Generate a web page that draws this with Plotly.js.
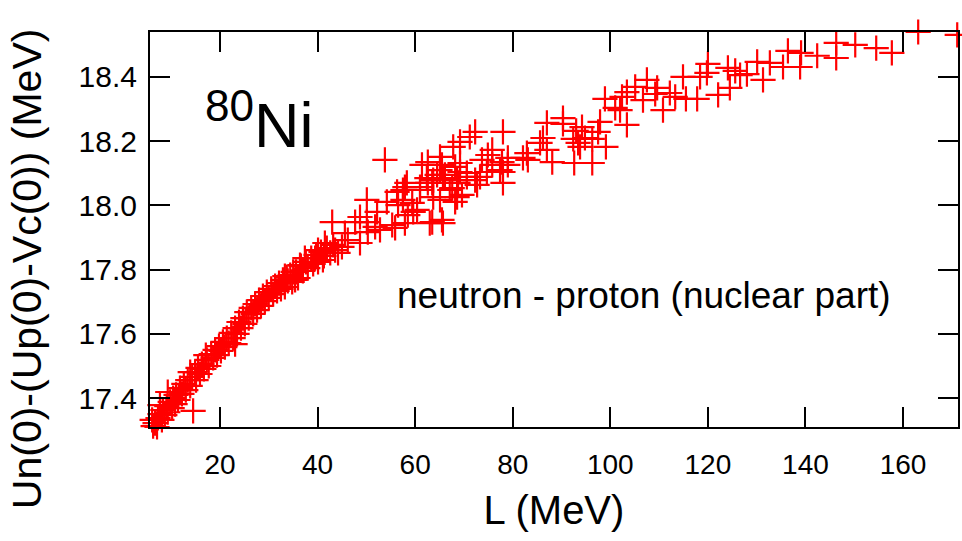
<!DOCTYPE html>
<html>
<head>
<meta charset="utf-8">
<script src="https://cdn.plot.ly/plotly-3.0.1.min.js"></script>
<style>html,body{margin:0;padding:0;background:#fff;}#chart{width:962px;height:541px;}</style>
</head>
<body>
<div id="chart"></div>
<script>
// L (MeV) values
const L = [
5.7,6.3,6.7,7.1,6.1,7.3,7.7,8.1,8.3,8.7,9.1,9.3,9.8,10.2,10.4,10.8,11.0,11.4,9.3,7.7,
11.8,12.2,12.6,13.0,13.4,13.9,13.9,14.3,14.9,15.1,15.5,15.9,16.3,16.7,17.1,17.3,17.7,18.2,18.6,19.0,
19.4,19.8,20.2,20.6,21.0,21.4,21.8,22.3,22.7,23.1,23.5,23.9,24.3,24.7,25.1,25.5,25.9,26.4,26.8,27.2,
27.6,28.0,28.4,28.8,29.2,29.6,30.0,30.5,30.9,31.3,31.7,32.1,32.5,32.9,33.3,33.9,34.4,34.8,35.6,36.0,
36.6,37.0,37.6,38.0,38.7,39.1,39.7,40.1,40.7,41.3,41.9,42.6,43.2,43.6,14.5,23.1,
53.8,62.6,65.1,68.2,70.6,65.7,63.5,62.4,68.8,67.1,57.9,56.3,61.0,50.1,54.2,56.5,59.4,60.4,63.5,65.5,
52.2,48.7,43.0,50.1,47.7,51.8,55.3,52.8,55.9,50.3,45.6,46.2,48.7,45.0,44.2,41.5,40.1,39.5,37.4,36.4,
41.1,35.0,33.7,33.3,35.4,
65.1,65.5,66.1,64.5,63.7,61.4,62.6,61.0,58.3,57.5,67.6,68.6,69.6,68.2,65.1,63.7,63.0,65.7,59.6,58.5,
57.9,57.5,75.8,74.9,73.7,77.8,79.0,79.0,77.4,75.8,74.7,73.3,72.3,72.7,70.6,69.2,69.2,68.6,78.0,78.0,
72.3,71.2,69.2,67.8,78.0,82.9,82.1,83.1,85.6,86.2,87.0,88.1,87.0,90.3,90.3,94.8,
93.0,92.4,93.4,92.6,96.3,93.8,94.2,96.3,97.5,99.1,97.9,103.4,102.0,98.9,101.0,102.4,103.4,105.1,106.7,109.2,
107.5,109.6,110.8,112.2,113.3,115.5,117.8,114.9,118.4,119.8,120.0,122.1,124.5,124.1,125.6,126.6,131.3,128.0,130.1,132.7,
135.4,138.9,136.4,139.1,142.4,146.3,146.3,150.2,154.5,157.7,163.1,171.1
];
// Un(0)-(Up(0)-Vc(0)) (MeV) values
const U = [
17.307,17.313,17.322,17.310,17.332,17.338,17.350,17.332,17.363,17.347,17.375,17.356,17.388,17.369,17.400,17.381,17.410,17.394,17.419,17.378,
17.431,17.413,17.444,17.425,17.456,17.438,17.481,17.466,17.481,17.456,17.494,17.475,17.506,17.491,17.534,17.519,17.500,17.537,17.525,17.550,
17.534,17.562,17.547,17.575,17.559,17.587,17.571,17.603,17.587,17.618,17.600,17.637,17.618,17.649,17.631,17.668,17.649,17.681,17.662,17.693,
17.674,17.705,17.687,17.718,17.702,17.730,17.712,17.740,17.724,17.749,17.734,17.758,17.740,17.768,17.780,17.765,17.783,17.762,17.793,17.774,
17.811,17.796,17.824,17.805,17.836,17.818,17.846,17.824,17.855,17.843,17.867,17.852,17.877,17.861,17.360,17.568,
18.142,18.135,18.110,18.120,18.101,18.085,18.070,18.085,18.070,18.048,18.057,18.042,18.048,18.017,18.011,18.001,18.008,17.986,17.948,17.955,
17.980,17.964,17.948,17.948,17.948,17.933,17.939,17.924,17.930,17.917,17.914,17.892,17.883,17.871,17.852,17.883,17.861,17.836,17.836,17.814,
17.830,17.793,17.777,17.746,17.768,
18.151,18.126,18.095,18.095,18.079,18.126,18.070,18.057,18.070,18.048,18.054,18.026,18.033,18.011,18.017,18.026,17.945,17.945,17.980,17.970,
17.945,18.017,18.173,18.157,18.142,18.135,18.148,18.126,18.110,18.126,18.104,18.089,18.079,18.064,18.089,18.104,18.132,18.079,18.104,18.070,
18.229,18.213,18.198,18.182,18.229,18.163,18.148,18.142,18.195,18.210,18.173,18.135,18.257,18.272,18.254,18.210,
18.232,18.207,18.195,18.132,18.132,18.182,18.244,18.207,18.229,18.182,18.260,18.251,18.297,18.332,18.304,18.338,18.353,18.369,18.328,18.347,
18.391,18.366,18.297,18.350,18.338,18.332,18.332,18.400,18.400,18.413,18.441,18.344,18.366,18.428,18.419,18.406,18.391,18.409,18.447,18.444,
18.431,18.431,18.481,18.475,18.466,18.459,18.506,18.500,18.490,18.475,18.540,18.531
];
const xTicks = [20, 40, 60, 80, 100, 120, 140, 160];
const yTicks = [17.4, 17.6, 17.8, 18.0, 18.2, 18.4];

const FONT = 'Liberation Sans, Arial, Helvetica, sans-serif';

const trace = {
  x: L, y: U, type: 'scatter', mode: 'markers', cliponaxis: false,
  marker: {symbol: 'cross-thin', size: 18, color: '#ff0000', line: {color: '#ff0000', width: 2.2}},
  hoverinfo: 'x+y', showlegend: false
};

const axisCommon = {
  showline: true, linecolor: '#000', linewidth: 2, mirror: 'ticks',
  ticks: 'inside', ticklen: 20, tickwidth: 2, tickcolor: '#000',
  showgrid: false, zeroline: false
};

const layout = {
  width: 962, height: 541,
  margin: {l: 150, r: 4, t: 32, b: 114},
  paper_bgcolor: '#fff', plot_bgcolor: '#fff',
  font: {family: FONT, color: '#000'},
  xaxis: Object.assign({}, axisCommon, {
    range: [5.66, 171.26], tickvals: xTicks, ticklabelstandoff: 11,
    tickfont: {family: FONT, size: 28, color: '#000'},
    title: {text: 'L (MeV)', font: {family: FONT, size: 40, color: '#000'}, standoff: 17}
  }),
  yaxis: Object.assign({}, axisCommon, {
    range: [17.31, 18.54], tickvals: yTicks, tickformat: '.1f', ticklabelstandoff: 5,
    tickfont: {family: FONT, size: 30, color: '#000'}
  }),
  annotations: [
    {text: 'Un(0)-(Up(0)-Vc(0)) (MeV)', xref: 'paper', yref: 'paper', x: -0.152, y: 0.4,
     xanchor: 'center', yanchor: 'middle', textangle: -90, showarrow: false,
     font: {family: FONT, size: 41, color: '#000'}},
    {text: '<sup>80</sup>Ni', xref: 'paper', yref: 'paper', x: 0.066, y: 0.775,
     xanchor: 'left', yanchor: 'middle', showarrow: false,
     font: {family: FONT, size: 63, color: '#000'}},
    {text: 'neutron - proton (nuclear part)', xref: 'paper', yref: 'paper', x: 0.611, y: 0.334,
     xanchor: 'center', yanchor: 'middle', showarrow: false,
     font: {family: FONT, size: 37, color: '#000'}}
  ]
};

Plotly.newPlot('chart', [trace], layout, {displayModeBar: false, staticPlot: true});
</script>
</body>
</html>
